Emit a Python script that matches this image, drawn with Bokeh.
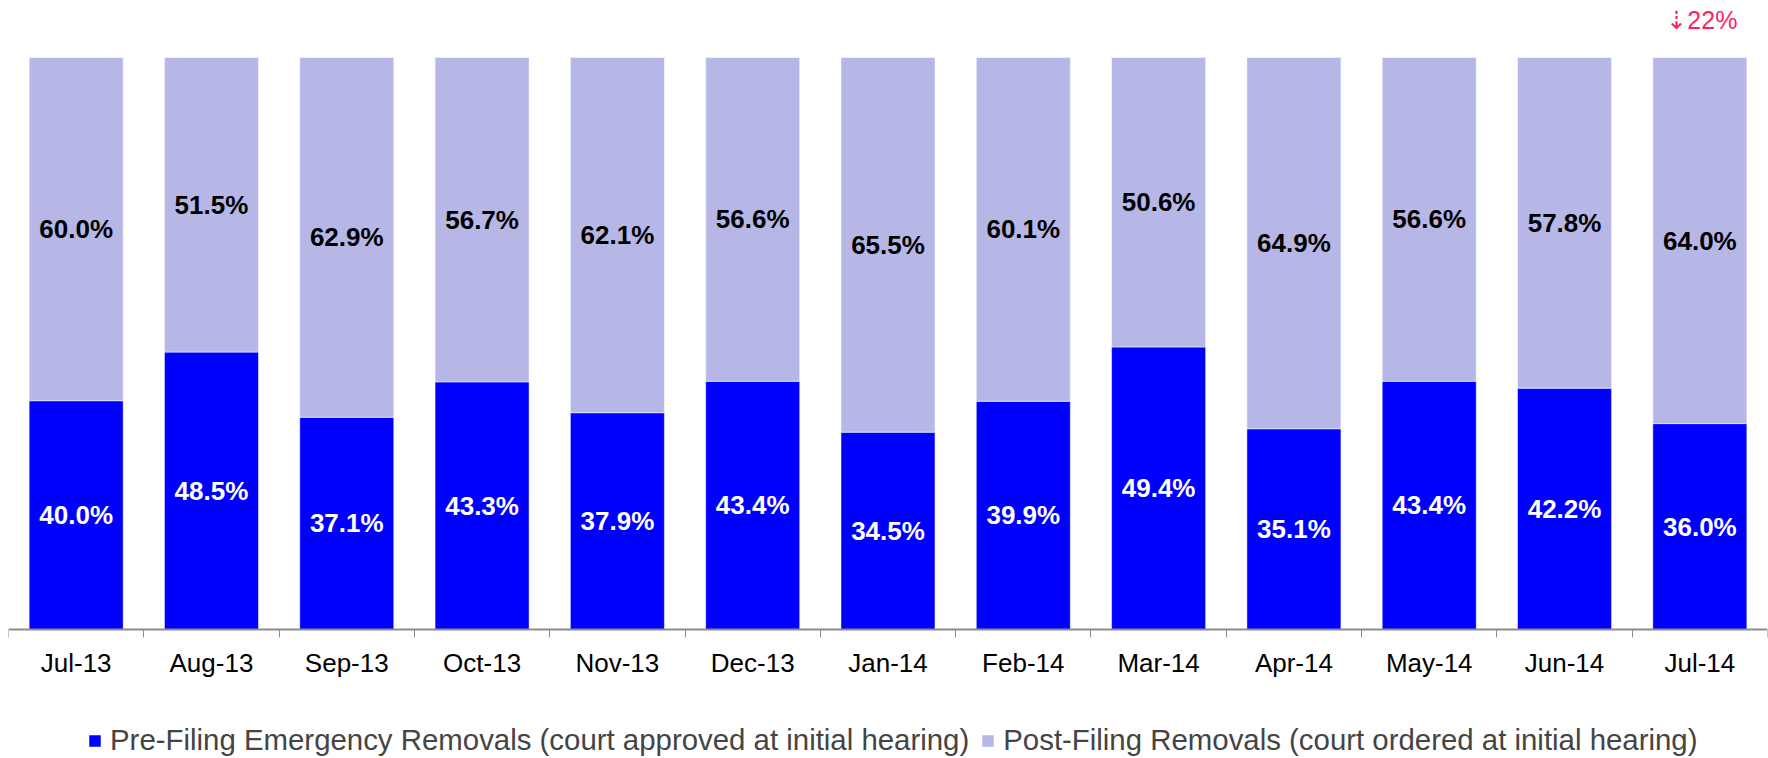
from bokeh.plotting import figure
from bokeh.models import ColumnDataSource, FixedTicker, Legend, LegendItem, Label, Range1d
from bokeh.core.properties import value
from bokeh.embed import file_html
from bokeh.resources import INLINE

# ---- data ----
months = ["Jul-13", "Aug-13", "Sep-13", "Oct-13", "Nov-13", "Dec-13", "Jan-14",
          "Feb-14", "Mar-14", "Apr-14", "May-14", "Jun-14", "Jul-14"]
pre_filing = [40.0, 48.5, 37.1, 43.3, 37.9, 43.4, 34.5, 39.9, 49.4, 35.1, 43.4, 42.2, 36.0]
post_filing = [60.0, 51.5, 62.9, 56.7, 62.1, 56.6, 65.5, 60.1, 50.6, 64.9, 56.6, 57.8, 64.0]
series_names = ["Pre-Filing Emergency Removals (court approved at initial hearing)",
                "Post-Filing Removals (court ordered at initial hearing)"]
change_note = "\u21e322%"

# ---- styling ----
FONT = "Liberation Sans"
BLUE = "#0000FF"
LAV = "#B6B7E6"
GREY = "#8C8C8C"
PINK = "#FF1F66"

n = len(months)
xs = [i + 0.5 for i in range(n)]
pre_f = [v / 100 for v in pre_filing]
post_f = [v / 100 for v in post_filing]
src = ColumnDataSource(dict(
    x=xs,
    pre=pre_f,
    top=[a + b for a, b in zip(pre_f, post_f)],
    pre_mid=[a / 2 for a in pre_f],
    post_mid=[a + b / 2 for a, b in zip(pre_f, post_f)],
    pre_lbl=[f"{v:.1f}%" for v in pre_filing],
    post_lbl=[f"{v:.1f}%" for v in post_filing],
))

# frame covers the full canvas height; the x axis is pinned at y = 0
p = figure(width=1768, height=758, output_backend="svg", toolbar_location=None,
           x_range=Range1d(0, n), y_range=Range1d(-0.2255, 1.0997),
           y_axis_location=None,
           min_border_left=8, min_border_right=1, min_border_top=0, min_border_bottom=0)
p.outline_line_color = None
p.xgrid.visible = False
p.ygrid.visible = False

bw = 0.695
r_pre = p.vbar(x="x", width=bw, bottom=0, top="pre", source=src,
               fill_color=BLUE, line_color="white", line_alpha=0.5, line_width=1)
r_post = p.vbar(x="x", width=bw, bottom="pre", top="top", source=src,
                fill_color=LAV, line_color="white", line_alpha=0.5, line_width=1)

p.text(x="x", y="pre_mid", text="pre_lbl", source=src, text_color="white",
       text_font=value(FONT), text_font_style="bold", text_font_size="26px",
       text_align="center", text_baseline="middle")
p.text(x="x", y="post_mid", text="post_lbl", source=src, text_color="black",
       text_font=value(FONT), text_font_style="bold", text_font_size="26px",
       text_align="center", text_baseline="middle")

ax = p.xaxis[0]
ax.fixed_location = 0
ax.ticker = FixedTicker(ticks=xs, minor_ticks=list(range(n + 1)))
ax.major_label_overrides = {x: m for x, m in zip(xs, months)}
ax.major_tick_line_color = None
ax.major_tick_out = 0
ax.major_tick_in = 0
ax.minor_tick_in = 0
ax.minor_tick_out = 8
ax.minor_tick_line_color = GREY
ax.minor_tick_line_width = 1
ax.axis_line_color = GREY
ax.axis_line_width = 2
ax.major_label_standoff = 10
ax.major_label_text_font = FONT
ax.major_label_text_font_size = "26px"
ax.major_label_text_color = "black"

p.add_layout(Label(x=xs[-1], y=1.066, x_offset=2, text=change_note, text_color=PINK,
                   text_font=FONT, text_font_size="25px",
                   text_align="center", text_baseline="middle"))

legend = Legend(items=[LegendItem(label=series_names[0], renderers=[r_pre]),
                       LegendItem(label=series_names[1], renderers=[r_post])],
                orientation="horizontal", location=(79, 1),
                glyph_width=15, glyph_height=15, label_standoff=8, spacing=11,
                padding=0, margin=0, border_line_color=None, background_fill_alpha=0,
                label_text_font=FONT, label_text_font_size="29.4px")
p.add_layout(legend)

open("out.html", "w").write(file_html(p, INLINE))
